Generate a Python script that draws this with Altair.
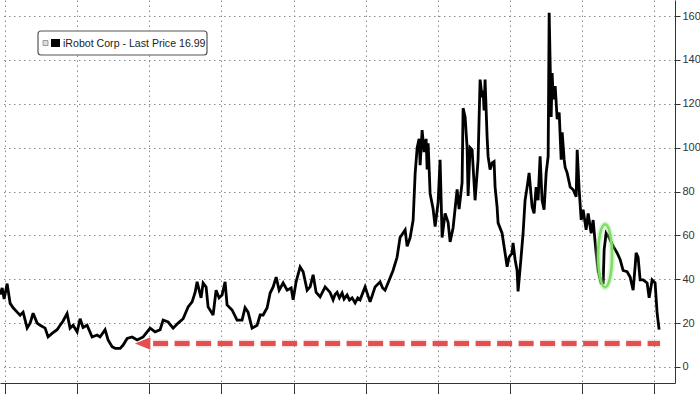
import altair as alt
import pandas as pd

# decimal-year positions and prices
years = [
    2005.861, 2005.917, 2005.972, 2006.055, 2006.139, 2006.222, 2006.333, 2006.416, 2006.499, 2006.610,
    2006.693, 2006.776, 2006.887, 2006.971, 2007.109, 2007.192, 2007.303, 2007.442, 2007.525, 2007.608,
    2007.719, 2007.802, 2007.886, 2007.997, 2008.080, 2008.163, 2008.274, 2008.413, 2008.551, 2008.634,
    2008.773, 2008.856, 2008.967, 2009.050, 2009.189, 2009.272, 2009.383, 2009.522, 2009.660, 2009.827,
    2010.021, 2010.160, 2010.298, 2010.381, 2010.520, 2010.659, 2010.797, 2010.936, 2011.075, 2011.186,
    2011.269, 2011.324, 2011.435, 2011.491, 2011.574, 2011.629, 2011.768, 2011.851, 2011.934, 2012.017,
    2012.101, 2012.156, 2012.295, 2012.433, 2012.572, 2012.655, 2012.738, 2012.849, 2012.988, 2013.071,
    2013.154, 2013.265, 2013.348, 2013.432, 2013.515, 2013.598, 2013.709, 2013.820, 2013.931, 2013.986,
    2014.069, 2014.180, 2014.264, 2014.375, 2014.458, 2014.541, 2014.624, 2014.735, 2014.874, 2015.012,
    2015.096, 2015.150, 2015.206, 2015.270, 2015.345, 2015.400, 2015.484, 2015.550, 2015.623, 2015.706,
    2015.780, 2015.844, 2015.983, 2016.122, 2016.190, 2016.260,
    2016.399, 2016.470, 2016.537, 2016.676, 2016.759, 2016.870, 2016.953, 2017.092, 2017.147, 2017.231, 2017.314,
    2017.369, 2017.425, 2017.480, 2017.508, 2017.563, 2017.619, 2017.674, 2017.702, 2017.730, 2017.785,
    2017.868, 2017.924, 2018.007, 2018.062, 2018.118, 2018.201, 2018.284, 2018.340, 2018.423, 2018.534,
    2018.589, 2018.672, 2018.700, 2018.756, 2018.811, 2018.839, 2018.894, 2018.950, 2019.033, 2019.116,
    2019.172, 2019.227, 2019.255, 2019.283, 2019.310, 2019.366, 2019.394, 2019.449, 2019.505, 2019.560,
    2019.588, 2019.643, 2019.671, 2019.782, 2019.865, 2019.921, 2019.976, 2020.059, 2020.087, 2020.143,
    2020.198, 2020.226, 2020.309, 2020.365, 2020.420, 2020.476, 2020.532, 2020.615, 2020.670, 2020.726,
    2020.781, 2020.837, 2020.892, 2020.947, 2021.003, 2021.058, 2021.086, 2021.142, 2021.169, 2021.197,
    2021.253, 2021.308, 2021.364, 2021.419, 2021.447, 2021.502, 2021.530, 2021.585, 2021.669, 2021.752,
    2021.835, 2021.863, 2021.918, 2021.974, 2022.029, 2022.112, 2022.168, 2022.251, 2022.306, 2022.389,
    2022.445, 2022.528, 2022.584, 2022.611, 2022.667, 2022.750, 2022.861, 2022.972, 2023.055, 2023.138,
    2023.249, 2023.333, 2023.416, 2023.471, 2023.499, 2023.554, 2023.610, 2023.693, 2023.804, 2023.860,
    2023.943, 2024.026, 2024.082, 2024.137,
]
prices = [
    33, 36, 31, 38, 29, 27, 25, 23.6, 25, 17.8,
    20, 24.5, 20, 19, 17.7, 13.7, 15.3, 17, 19, 21,
    24.4, 17.7, 19, 16, 22, 18, 19, 13.7, 14.6, 13.7,
    17, 12.3, 9.2, 8.5, 8.5, 10, 13, 13.7, 12.3, 13.7,
    17.7, 16, 17, 21.4, 20.5, 17.7, 20, 22, 27.4, 29.7,
    34, 38.8, 31.5, 38.3, 36.5, 27.4, 23.7, 35, 31.5, 32.8,
    38.8, 28.3, 26, 21.4, 21.4, 27, 25, 17.7, 19, 23.7,
    23.7, 27, 33.7, 36.5, 41, 35, 38.3, 35, 36, 30.6,
    38.8, 45.6, 43.4, 35, 36.5, 42, 34, 32, 36.5, 34,
    30.6, 33, 34, 31.5, 33.7, 31, 32.8, 30.5, 31.5, 29.2,
    31.5, 30.6, 36.5, 29.7, 33, 36.5,
    38.8, 36, 35, 40.6, 44, 50, 59, 62.5, 55, 59, 67,
    88, 100, 104, 92, 108, 98, 104, 90, 102, 79,
    72, 64, 75, 94.5, 59, 70, 66, 57, 63.5, 81,
    72, 84, 118, 114, 100, 78, 100, 99, 76, 94.5,
    131, 123, 126, 117, 131, 105, 96, 90, 93, 93.6,
    82, 73, 65.7, 61, 52, 45.7, 50, 52, 56.6, 49,
    44, 34.5, 50, 61, 76, 82, 88.5, 73, 70, 82,
    76, 96, 76, 71.7, 88.5, 96, 161.5, 114, 134, 122,
    128, 113, 116, 94.5, 107, 94.5, 91, 88.5, 82, 80.8,
    77.6, 99, 80.8, 67, 71.7, 62.5, 70, 61, 67, 52,
    44, 38.3, 38.3, 53.4, 61, 59, 55, 52, 49, 44,
    43.4, 41, 35, 45.7, 52, 50, 39.7, 39.7, 38.3, 31.5,
    39.7, 38.3, 24.5, 17,
]

grid_years = list(range(2006, 2025))
y_ticks = list(range(0, 161, 10))
legend_text = "iRobot Corp - Last Price 16.99"

# annotation anchors (decimal years, price level)
arrow_start, arrow_end, arrow_level = 2010.104, 2024.163, 10.7
arrow_head_t = 2009.813
ellipse_t, ellipse_level = 2022.638, 50.7


def to_date(t):
    y = int(t)
    return pd.Timestamp(year=y, month=1, day=1) + pd.Timedelta(days=(t - y) * 365.25)


df = pd.DataFrame({"date": [to_date(t) for t in years], "price": prices})

xscale = alt.Scale(
    domain=[alt.DateTime(year=2005, month=11, date=10), alt.DateTime(year=2024, month=7, date=30)],
    nice=False,
)
yscale = alt.Scale(domain=[-7.3, 167.3], nice=False, zero=False)

x_axis = alt.Axis(
    values=[alt.DateTime(year=y, month=1, date=1) for y in grid_years],
    labels=False, title=None, tickSize=11, domainColor="#333", tickColor="#333",
    gridOpacity={"condition": {"test": "year(datum.value) % 2 === 0", "value": 1}, "value": 0},
)
y_axis = alt.Axis(
    orient="right", values=y_ticks, title=None,
    labelExpr="datum.value % 20 === 0 ? datum.label : ''",
    tickSize={"condition": {"test": "datum.value % 20 === 0", "value": 5}, "value": 3},
    gridOpacity={"condition": {"test": "datum.value % 20 === 0", "value": 1}, "value": 0},
    labelPadding=2, labelFontSize=11, labelColor="#333", labelFont="Liberation Sans",
    domainColor="#333", tickColor="#333",
)

line = alt.Chart(df).mark_line(color="black", strokeWidth=2.8, strokeJoin="miter", strokeMiterLimit=3).encode(
    x=alt.X("date:T", scale=xscale, axis=x_axis),
    y=alt.Y("price:Q", scale=yscale, axis=y_axis),
)

ann = pd.DataFrame({
    "s": [to_date(arrow_start)], "e": [to_date(arrow_end)], "lvl": [arrow_level],
    "h": [to_date(arrow_head_t)], "et": [to_date(ellipse_t)], "el": [ellipse_level],
})

arrow_glow = alt.Chart(ann).mark_rule(color="#e8484a", strokeWidth=8, opacity=0.18, strokeDash=[15, 6.5]).encode(
    x=alt.X("s:T", scale=xscale), x2="e:T", y=alt.Y("lvl:Q", scale=yscale))
arrow = alt.Chart(ann).mark_rule(color="#e4504f", strokeWidth=5, strokeDash=[15, 6.5]).encode(
    x=alt.X("s:T", scale=xscale), x2="e:T", y=alt.Y("lvl:Q", scale=yscale))
head = alt.Chart(ann).mark_point(
    shape="M -1 0 L 1 -0.8 L 1 0.8 Z", size=240, filled=True, color="#e4504f", opacity=1
).encode(x=alt.X("h:T", scale=xscale), y=alt.Y("lvl:Q", scale=yscale))

ellipse_path = "M 0 -1 A 0.22 1 0 1 1 0 1 A 0.22 1 0 1 1 0 -1 Z"
ell_glow = alt.Chart(ann).mark_point(
    shape=ellipse_path, size=3969, filled=False, color="#9be58a", strokeWidth=6, opacity=0.35
).encode(x=alt.X("et:T", scale=xscale), y=alt.Y("el:Q", scale=yscale))
ell = alt.Chart(ann).mark_point(
    shape=ellipse_path, size=3969, filled=False, color="#7fdc66", strokeWidth=2.6, opacity=1
).encode(x=alt.X("et:T", scale=xscale), y=alt.Y("el:Q", scale=yscale))

one = pd.DataFrame({"k": [0]})
box = alt.Chart(one).mark_rect(fill="white", stroke="#555", strokeWidth=1.2, cornerRadius=3).encode(
    x=alt.value(38), x2=alt.value(207), y=alt.value(31), y2=alt.value(55))
icon1 = alt.Chart(one).mark_rect(fill="#ddd", stroke="#888", strokeWidth=0.8).encode(
    x=alt.value(43), x2=alt.value(48), y=alt.value(40.5), y2=alt.value(45.5))
icon2 = alt.Chart(one).mark_rect(fill="black").encode(
    x=alt.value(51), x2=alt.value(60), y=alt.value(39), y2=alt.value(47))
label = alt.Chart(one).mark_text(
    text=legend_text, align="left", baseline="middle", fontSize=10.6, color="#222",
    font="Liberation Sans",
).encode(x=alt.value(63), y=alt.value(43.5))

chart = alt.layer(line, arrow_glow, arrow, head, ell_glow, ell, box, icon1, icon2, label).properties(
    width=675, height=383,
    autosize=alt.AutoSizeParams(type="none"),
    padding={"left": 0, "top": 0, "right": 25, "bottom": 11},
    background="white",
).configure_view(stroke=None).configure_axis(
    gridColor="#8a8a8a", gridDash=[1.5, 3.5], gridWidth=1,
)

chart.save("out.html", embed_options={"renderer": "svg", "actions": False})
